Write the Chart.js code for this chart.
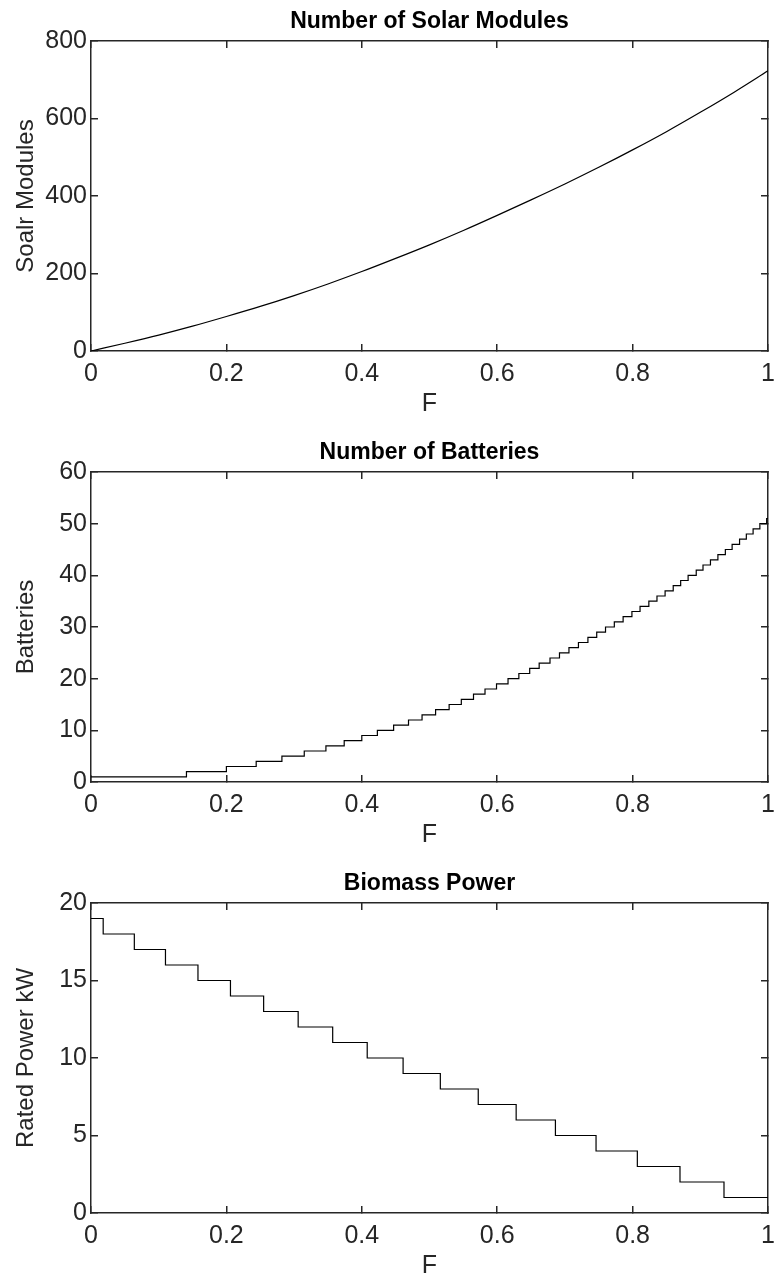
<!DOCTYPE html>
<html>
<head>
<meta charset="utf-8">
<title>Solar / Battery / Biomass sizing vs F</title>
<script src="https://cdn.jsdelivr.net/npm/chart.js@4.4.0/dist/chart.umd.min.js"></script>
<style>
  html, body { margin: 0; padding: 0; background: #fff; }
  #wrap { position: relative; width: 774px; height: 1282px; overflow: hidden; }
  #wrap canvas { position: absolute; left: 0; }
</style>
</head>
<body>
<div id="wrap">
  <canvas id="chartSolar" width="774" height="420" style="top:0px"></canvas>
  <canvas id="chartBatteries" width="774" height="420" style="top:431px"></canvas>
  <canvas id="chartBiomass" width="774" height="420" style="top:862px"></canvas>
</div>
<script>
// shared x axis (fraction F)
var xTickValues = [0, 0.2, 0.4, 0.6, 0.8, 1];
var xTickLabels = ['0', '0.2', '0.4', '0.6', '0.8', '1'];

// number of solar modules, sampled every 0.05 of F
var solarF = [0, 0.05, 0.1, 0.15, 0.2, 0.25, 0.3, 0.35, 0.4, 0.45, 0.5,
              0.55, 0.6, 0.65, 0.7, 0.75, 0.8, 0.85, 0.9, 0.95, 1];
var solarModules = [0, 20, 41, 64, 89, 115, 143, 173, 205, 239, 274,
                    311, 350, 390, 431, 474, 519, 566, 616, 668, 723];
var solarTicks = [0, 200, 400, 600, 800];

// batteries: F where each count starts
var batteryStartF = [0, 0.141, 0.200, 0.244, 0.282, 0.315, 0.347, 0.374, 0.400, 0.423,
                     0.447, 0.469, 0.489, 0.509, 0.529, 0.547, 0.565, 0.582, 0.599, 0.616,
                     0.632, 0.648, 0.662, 0.678, 0.692, 0.706, 0.720, 0.734, 0.747, 0.760,
                     0.773, 0.786, 0.799, 0.811, 0.824, 0.836, 0.848, 0.860, 0.871, 0.882,
                     0.894, 0.904, 0.915, 0.926, 0.937, 0.947, 0.958, 0.968, 0.978, 0.988,
                     0.998];
var batteryCount = [1, 2, 3, 4, 5, 6, 7, 8, 9, 10,
                    11, 12, 13, 14, 15, 16, 17, 18, 19, 20,
                    21, 22, 23, 24, 25, 26, 27, 28, 29, 30,
                    31, 32, 33, 34, 35, 36, 37, 38, 39, 40,
                    41, 42, 43, 44, 45, 46, 47, 48, 49, 50,
                    51];
var batteryTicks = [0, 10, 20, 30, 40, 50, 60];

// biomass rated power (kW): F where each level starts
var biomassStartF = [0, 0.018, 0.064, 0.110, 0.158, 0.206, 0.255, 0.306, 0.357, 0.408,
                     0.461, 0.516, 0.572, 0.628, 0.686, 0.746, 0.807, 0.870, 0.935];
var biomassKW = [19, 18, 17, 16, 15, 14, 13, 12, 11, 10,
                 9, 8, 7, 6, 5, 4, 3, 2, 1];
var biomassTicks = [0, 5, 10, 15, 20];

var ink = '#262626';
Chart.defaults.font.family = "'Liberation Sans', Arial, Helvetica, sans-serif";
Chart.defaults.color = ink;

function toPoints(xs, ys) {
    var pts = [];
    for (var i = 0; i < xs.length; i++) {
        pts.push({ x: xs[i], y: ys[i] });
    }
    return pts;
}

// step series hold their last level up to F = 1
function stepPoints(starts, levels) {
    var pts = toPoints(starts, levels);
    pts.push({ x: 1, y: levels[levels.length - 1] });
    return pts;
}

// axis with inward tick marks, used for all four sides of the box
function boxAxis(position, tickValues, extra) {
    var axis = {
        type: 'linear',
        position: position,
        min: tickValues[0],
        max: tickValues[tickValues.length - 1],
        afterBuildTicks: function (scale) {
            scale.ticks = tickValues.map(function (v) { return { value: v }; });
        },
        border: { display: true, color: ink, width: 1.5 },
        grid: { drawOnChartArea: false, drawTicks: true, tickLength: -7, color: ink, lineWidth: 1.5 },
        ticks: { display: false }
    };
    return Object.assign(axis, extra || {});
}

function makePanel(canvasId, title, yTitle, yTicks, points, stepped, smooth) {
    var ctx = document.getElementById(canvasId).getContext('2d');
    return new Chart(ctx, {
        type: 'line',
        data: {
            datasets: [{
                data: points,
                borderColor: '#000',
                borderWidth: 1.2,
                pointRadius: 0,
                fill: false,
                stepped: stepped,
                cubicInterpolationMode: smooth ? 'monotone' : 'default',
                tension: 0
            }]
        },
        options: {
            responsive: false,
            animation: false,
            events: [],
            layout: { padding: { left: 0, right: 6, top: 0, bottom: 0 } },
            plugins: {
                legend: { display: false },
                tooltip: { enabled: false },
                title: {
                    display: true,
                    text: title,
                    fullSize: false,
                    color: '#000',
                    font: { size: 23, weight: 'bold' },
                    padding: { top: 8, bottom: 5.4 }
                }
            },
            scales: {
                x: boxAxis('bottom', xTickValues, {
                    afterFit: function (scale) {
                        scale.height = 69;
                        // the "1" label may hang past the plot edge
                        scale.paddingLeft = 0;
                        scale.paddingRight = 0;
                    },
                    ticks: {
                        display: true,
                        padding: 15.5,
                        maxRotation: 0,
                        autoSkip: false,
                        font: { size: 25 },
                        callback: function (value, index) { return xTickLabels[index]; }
                    },
                    title: { display: true, text: 'F', font: { size: 25 }, padding: { top: 0, bottom: 1 } }
                }),
                x2: boxAxis('top', xTickValues, {
                    afterFit: function (scale) { scale.height = 0; }
                }),
                y: boxAxis('left', yTicks, {
                    afterFit: function (scale) {
                        scale.width = 91;
                        scale.paddingTop = 0;
                        scale.paddingBottom = 0;
                    },
                    ticks: {
                        display: true,
                        padding: 11,
                        autoSkip: false,
                        font: { size: 25 },
                        callback: function (value) { return String(value); }
                    },
                    title: { display: true, text: yTitle, font: { size: 24 }, padding: { top: 12, bottom: 0 } }
                }),
                y2: boxAxis('right', yTicks, {
                    afterFit: function (scale) { scale.width = 0; }
                })
            }
        }
    });
}

document.addEventListener('DOMContentLoaded', function () {
    makePanel('chartSolar', 'Number of Solar Modules', 'Soalr Modules', solarTicks,
              toPoints(solarF, solarModules), false, true);
    makePanel('chartBatteries', 'Number of Batteries', 'Batteries', batteryTicks,
              stepPoints(batteryStartF, batteryCount), true, false);
    makePanel('chartBiomass', 'Biomass Power', 'Rated Power kW', biomassTicks,
              stepPoints(biomassStartF, biomassKW), true, false);
});
</script>
</body>
</html>
